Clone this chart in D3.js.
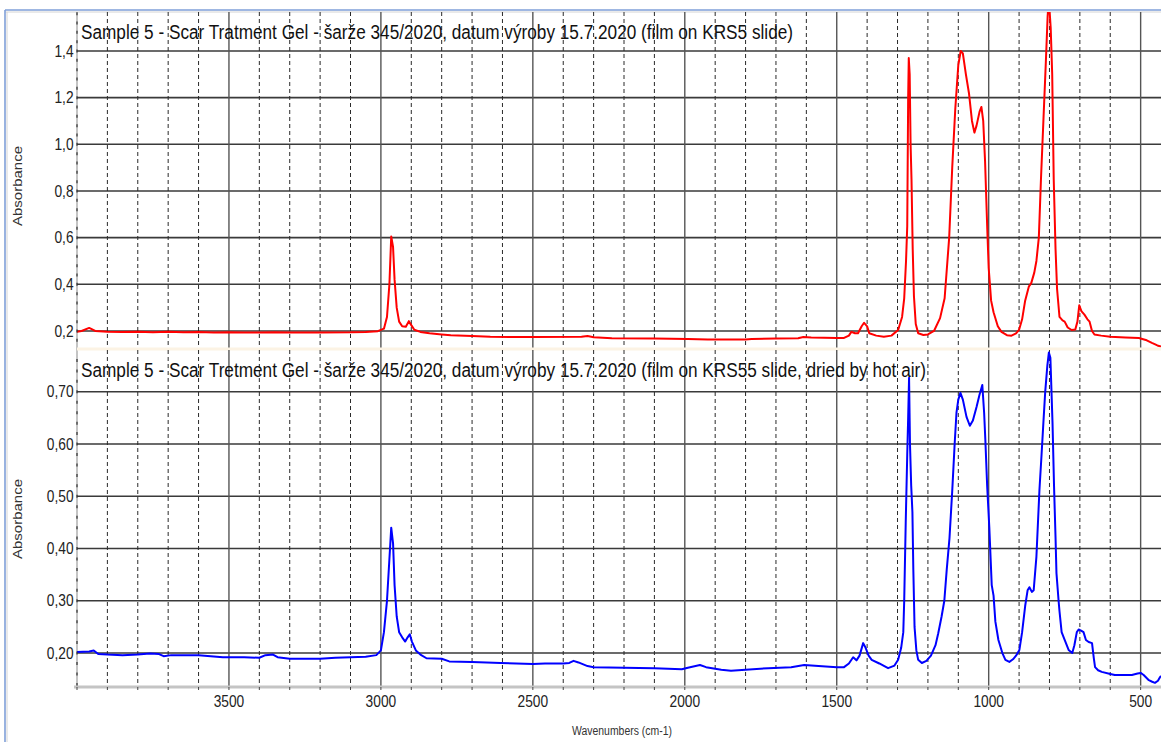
<!DOCTYPE html>
<html>
<head>
<meta charset="utf-8">
<script src="https://cdn.jsdelivr.net/npm/d3@7"></script>
<style>
  html, body { margin: 0; padding: 0; background: #ffffff; }
  svg { display: block; font-family: "Liberation Sans", Arial, sans-serif; }
</style>
</head>
<body>
<svg id="chart" width="1161" height="742"></svg>
<script>
// ---- Spectrum data (wavenumber in cm-1, absorbance) ----
const topTitle = "Sample 5 - Scar Tratment Gel - šarže 345/2020, datum výroby 15.7.2020 (film on KRS5 slide)";
const bottomTitle = "Sample 5 - Scar Tretment Gel - šarže 345/2020, datum výroby 15.7.2020 (film on KRS55 slide, dried by hot air)";

const topWn = [4000, 3985, 3960, 3940, 3900, 3850, 3800, 3750, 3700, 3650, 3600, 3550, 3500, 3450, 3400, 3350, 3300, 3200, 3100, 3050, 3010,
  2990, 2980, 2972, 2966, 2960, 2955, 2948, 2940, 2930, 2918, 2908, 2900, 2890, 2870, 2840, 2800, 2770, 2700, 2640, 2500, 2340, 2320, 2300,
  2240, 2100, 1990, 1924, 1800, 1780, 1700, 1627, 1610, 1584, 1500, 1476, 1460, 1452, 1440, 1430, 1418, 1410, 1400, 1393, 1370, 1345, 1320,
  1298, 1285, 1278, 1272, 1268, 1265, 1263, 1260, 1257, 1254, 1250, 1246, 1240, 1232, 1215, 1200, 1180, 1160, 1145, 1130, 1120, 1110, 1100,
  1092, 1085, 1075, 1065, 1055, 1047, 1040, 1030, 1024, 1018, 1012, 1005, 1000, 992, 984, 970, 958, 940, 925, 910, 900, 890, 880, 868, 860,
  850, 843, 835, 828, 820, 812, 806, 802, 796, 791, 786, 780, 775, 767, 757, 750, 740, 727, 715, 708, 702, 695, 685, 675, 668, 660, 652, 630,
  600, 550, 506, 480, 463, 445, 433];
const topAbs = [0.197, 0.200, 0.213, 0.200, 0.197, 0.196, 0.197, 0.195, 0.197, 0.194, 0.196, 0.193, 0.194, 0.193, 0.193, 0.194, 0.193, 0.193, 0.194, 0.196, 0.199,
  0.210, 0.260, 0.400, 0.605, 0.560, 0.420, 0.300, 0.240, 0.220, 0.218, 0.242, 0.225, 0.205, 0.196, 0.190, 0.185, 0.182, 0.178, 0.175, 0.174, 0.175, 0.178, 0.173,
  0.169, 0.168, 0.166, 0.163, 0.163, 0.166, 0.168, 0.169, 0.174, 0.172, 0.170, 0.170, 0.180, 0.196, 0.190, 0.190, 0.220, 0.235, 0.220, 0.190, 0.180, 0.175, 0.180,
  0.204, 0.260, 0.340, 0.500, 0.650, 1.200, 1.370, 1.300, 1.000, 0.850, 0.550, 0.350, 0.230, 0.190, 0.183, 0.185, 0.200, 0.255, 0.340, 0.600, 0.900, 1.150, 1.340,
  1.400, 1.390, 1.300, 1.220, 1.100, 1.050, 1.080, 1.140, 1.160, 1.100, 0.930, 0.650, 0.470, 0.330, 0.280, 0.220, 0.196, 0.182, 0.180, 0.190, 0.205, 0.250, 0.330, 0.390, 0.405,
  0.450, 0.500, 0.600, 0.850, 1.100, 1.350, 1.550, 1.620, 1.500, 1.300, 0.850, 0.550, 0.380, 0.260, 0.245, 0.240, 0.215, 0.204, 0.206, 0.240, 0.310, 0.285, 0.270, 0.250, 0.240, 0.200, 0.185, 0.180,
  0.175, 0.172, 0.170, 0.160, 0.149, 0.138, 0.133];

const bottomWn = [4000, 3960, 3945, 3930, 3900, 3850, 3800, 3760, 3730, 3715, 3690, 3600, 3560, 3520, 3450, 3400, 3380, 3355, 3340, 3300, 3200,
  3150, 3100, 3050, 3015, 3000, 2990, 2980, 2972, 2966, 2960, 2955, 2948, 2940, 2930, 2920, 2912, 2905, 2898, 2885, 2870, 2850, 2800, 2775,
  2700, 2606, 2500, 2460, 2400, 2380, 2366, 2350, 2320, 2300, 2200, 2100, 2010, 1990, 1950, 1930, 1880, 1848, 1800, 1726, 1650, 1607, 1560,
  1500, 1476, 1460, 1446, 1435, 1425, 1413, 1405, 1395, 1385, 1360, 1331, 1310, 1298, 1288, 1281, 1278, 1273, 1268, 1265, 1262, 1259, 1255,
  1251, 1248, 1244, 1238, 1232, 1220, 1205, 1190, 1175, 1166, 1155, 1146, 1138, 1129, 1120, 1112, 1106, 1100, 1093, 1085, 1073, 1062, 1052,
  1040, 1030, 1021, 1015, 1011, 1005, 998, 990, 984, 978, 968, 955, 945, 932, 920, 910, 899, 890, 880, 872, 866, 858, 852, 843, 833, 826, 820,
  814, 807, 802, 797, 790, 785, 780, 777, 770, 767, 760, 750, 737, 725, 718, 710, 704, 696, 688, 680, 671, 660, 654, 650, 640, 628, 600, 585,
  550, 529, 510, 500, 490, 473, 462, 453, 443, 436, 433];
const bottomAbs = [0.202, 0.203, 0.205, 0.198, 0.197, 0.196, 0.197, 0.199, 0.198, 0.194, 0.196, 0.196, 0.194, 0.192, 0.192, 0.191, 0.196, 0.197, 0.192, 0.189, 0.189,
  0.191, 0.192, 0.193, 0.196, 0.205, 0.240, 0.300, 0.380, 0.440, 0.410, 0.330, 0.270, 0.240, 0.230, 0.222, 0.230, 0.236, 0.222, 0.205, 0.197, 0.190, 0.189, 0.184,
  0.183, 0.181, 0.179, 0.180, 0.180, 0.181, 0.185, 0.182, 0.175, 0.173, 0.172, 0.171, 0.169, 0.172, 0.177, 0.173, 0.168, 0.166, 0.168, 0.171, 0.173, 0.177, 0.175,
  0.173, 0.173, 0.180, 0.192, 0.186, 0.195, 0.219, 0.210, 0.195, 0.187, 0.180, 0.171, 0.176, 0.187, 0.210, 0.240, 0.300, 0.450, 0.580, 0.650, 0.727, 0.600, 0.520,
  0.470, 0.360, 0.250, 0.205, 0.187, 0.181, 0.185, 0.195, 0.215, 0.238, 0.270, 0.300, 0.360, 0.420, 0.510, 0.600, 0.660, 0.685, 0.698, 0.685, 0.652, 0.635, 0.645,
  0.671, 0.695, 0.713, 0.660, 0.608, 0.520, 0.441, 0.330, 0.310, 0.260, 0.225, 0.200, 0.187, 0.183, 0.188, 0.195, 0.206, 0.240, 0.290, 0.320, 0.326, 0.317, 0.320, 0.384, 0.512, 0.580, 0.641,
  0.700, 0.750, 0.775, 0.765, 0.641, 0.520, 0.420, 0.353, 0.300, 0.280, 0.240, 0.225, 0.206, 0.200, 0.215, 0.240, 0.245, 0.243, 0.240, 0.225, 0.221, 0.219, 0.190, 0.173, 0.167, 0.164, 0.160, 0.158,
  0.158, 0.158, 0.161, 0.162, 0.158, 0.148, 0.145, 0.143, 0.147, 0.154, 0.156];

const xTicks = [3500, 3000, 2500, 2000, 1500, 1000, 500];
const topTicks = [0.2, 0.4, 0.6, 0.8, 1.0, 1.2, 1.4];
const bottomTicks = [0.20, 0.30, 0.40, 0.50, 0.60, 0.70];
const xLabel = "Wavenumbers (cm-1)";
const yLabel = "Absorbance";

// ---- Layout ----
const svg = d3.select("#chart");
const W = 1161, H = 742;
const plotLeft = 77, plotRight = 1161;
const topPanel = { y0: 12, y1: 348 };
const botPanel = { y0: 350, y1: 687 };
const squeeze = 0.86; // horizontal condensation of the label glyphs

svg.append("rect").attr("width", W).attr("height", H).attr("fill", "#ffffff");

const x = d3.scaleLinear().domain([4000, 433]).range([plotLeft, plotRight]);
const yTop = d3.scaleLinear().domain([0.127, 1.567]).range([topPanel.y1, topPanel.y0]);
const yBot = d3.scaleLinear().domain([0.135, 0.780]).range([botPanel.y1, botPanel.y0]);

// window frame
svg.append("line").attr("x1", 5).attr("x2", W).attr("y1", 10).attr("y2", 10).attr("stroke", "#7f9fd8").attr("stroke-width", 1.6);
svg.append("line").attr("x1", 5).attr("x2", W).attr("y1", 12).attr("y2", 12).attr("stroke", "#d4d4d4").attr("stroke-width", 1);
svg.append("line").attr("x1", 5).attr("x2", 5).attr("y1", 10).attr("y2", H).attr("stroke", "#7f9fd8").attr("stroke-width", 1.6);
svg.append("line").attr("x1", 7).attr("x2", 7).attr("y1", 12).attr("y2", H).attr("stroke", "#d4d4d4").attr("stroke-width", 1);

const minorX = d3.range(4000, 400, -100).filter(v => v % 500 !== 0 && v < 4000 && x(v) < plotRight);

function drawPanel(panel, y, ticks, fmt, minorStep, wn, abs, color, title, titleLen, titleBaseline, labelCenter, id) {
  const g = svg.append("g");

  // horizontal gridlines
  g.selectAll("line.h").data(ticks).join("line")
    .attr("x1", plotLeft).attr("x2", plotRight)
    .attr("y1", d => y(d)).attr("y2", d => y(d))
    .attr("stroke", "#3a3a3a").attr("stroke-width", 1.6);

  // vertical dashed minor grid
  g.selectAll("line.vm").data(minorX).join("line")
    .attr("x1", d => x(d)).attr("x2", d => x(d))
    .attr("y1", panel.y0).attr("y2", panel.y1)
    .attr("stroke", "#2a2a2a").attr("stroke-width", 1)
    .attr("stroke-dasharray", "4,3");

  // vertical solid major grid
  g.selectAll("line.vM").data(xTicks).join("line")
    .attr("x1", d => x(d)).attr("x2", d => x(d))
    .attr("y1", panel.y0).attr("y2", panel.y1)
    .attr("stroke", "#555555").attr("stroke-width", 1.4);

  // spectrum
  const clipId = "clip-" + id;
  svg.append("clipPath").attr("id", clipId).append("rect")
    .attr("x", plotLeft).attr("y", panel.y0).attr("width", plotRight - plotLeft).attr("height", panel.y1 - panel.y0);
  const pts = wn.map((w, i) => [w, abs[i]]);
  const line = d3.line().x(d => x(d[0])).y(d => y(d[1])).curve(d3.curveLinear);
  svg.append("path").datum(pts)
    .attr("clip-path", `url(#${clipId})`)
    .attr("d", line)
    .attr("fill", "none").attr("stroke", color).attr("stroke-width", 2)
    .attr("stroke-linejoin", "round");

  // y axis labels
  const axis = d3.axisLeft(y).tickValues(ticks).tickFormat(d => fmt(d).replace(".", ",")).tickSize(0).tickPadding(4);
  const ag = svg.append("g").attr("transform", `translate(${plotLeft},0)`).call(axis);
  ag.select(".domain").remove();
  ag.selectAll("text")
    .attr("font-size", 16).attr("fill", "#222")
    .attr("font-family", "'Liberation Sans', Arial, sans-serif")
    .attr("transform", `scale(${squeeze},1)`);

  // minor ticks on the left axis
  const [d0, d1] = y.domain();
  const minors = d3.range(Math.ceil(d0 / minorStep) * minorStep, d1, minorStep);
  svg.selectAll(null).data(minors).join("line")
    .attr("x1", plotLeft).attr("x2", plotLeft)
    .attr("y1", d => y(d) - 1.5).attr("y2", d => y(d) + 1.5)
    .attr("stroke", "#333").attr("stroke-width", 1.2);

  // title inside the plot
  svg.append("text")
    .attr("x", 81).attr("y", titleBaseline)
    .attr("font-size", 20).attr("fill", "#111")
    .attr("textLength", titleLen).attr("lengthAdjust", "spacingAndGlyphs")
    .text(title);

  // y axis title
  svg.append("text")
    .attr("transform", `translate(22,${labelCenter}) rotate(-90)`)
    .attr("text-anchor", "middle")
    .attr("font-size", 12).attr("fill", "#333")
    .attr("textLength", 80).attr("lengthAdjust", "spacingAndGlyphs")
    .text(yLabel);
}

// left axis line (drawn under the minor ticks)
svg.append("line").attr("x1", plotLeft).attr("x2", plotLeft).attr("y1", topPanel.y0).attr("y2", botPanel.y1)
  .attr("stroke", "#c4c4c4").attr("stroke-width", 2);

drawPanel(topPanel, yTop, topTicks, d3.format(".1f"), 0.04, topWn, topAbs, "#ff0000",
  topTitle, 712, 39, 186, "top");

// separator strip between the panels
svg.append("line").attr("x1", plotLeft).attr("x2", plotRight).attr("y1", 349).attr("y2", 349)
  .attr("stroke", "#fcf3e4").attr("stroke-width", 3);

drawPanel(botPanel, yBot, bottomTicks, d3.format(".2f"), 0.02, bottomWn, bottomAbs, "#0000ff",
  bottomTitle, 845, 377, 519, "bottom");

// bottom x axis
svg.append("line").attr("x1", 74).attr("x2", plotRight).attr("y1", botPanel.y1).attr("y2", botPanel.y1)
  .attr("stroke", "#c4c4c4").attr("stroke-width", 3);
svg.selectAll(null).data(d3.range(4000, 400, -100).filter(v => x(v) <= plotRight)).join("line")
  .attr("x1", d => x(d)).attr("x2", d => x(d))
  .attr("y1", botPanel.y1).attr("y2", botPanel.y1 + 3)
  .attr("stroke", "#444").attr("stroke-width", 1);

const xAxis = d3.axisBottom(x).tickValues(xTicks).tickFormat(d3.format("d")).tickSize(0).tickPadding(9);
const xg = svg.append("g").attr("transform", `translate(0,${botPanel.y1})`).call(xAxis);
xg.select(".domain").remove();
xg.selectAll("text")
  .attr("font-size", 16).attr("fill", "#222")
  .attr("font-family", "'Liberation Sans', Arial, sans-serif")
  .attr("transform", `scale(${squeeze},1)`);
// keep x tick labels centred on their gridlines after the squeeze
xg.selectAll(".tick").each(function(d) {
  d3.select(this).attr("transform", `translate(${x(d)},0)`);
});

svg.append("text")
  .attr("x", 622).attr("y", 735)
  .attr("text-anchor", "middle")
  .attr("font-size", 12).attr("fill", "#333")
  .attr("textLength", 100).attr("lengthAdjust", "spacingAndGlyphs")
  .text(xLabel);
</script>
</body>
</html>
